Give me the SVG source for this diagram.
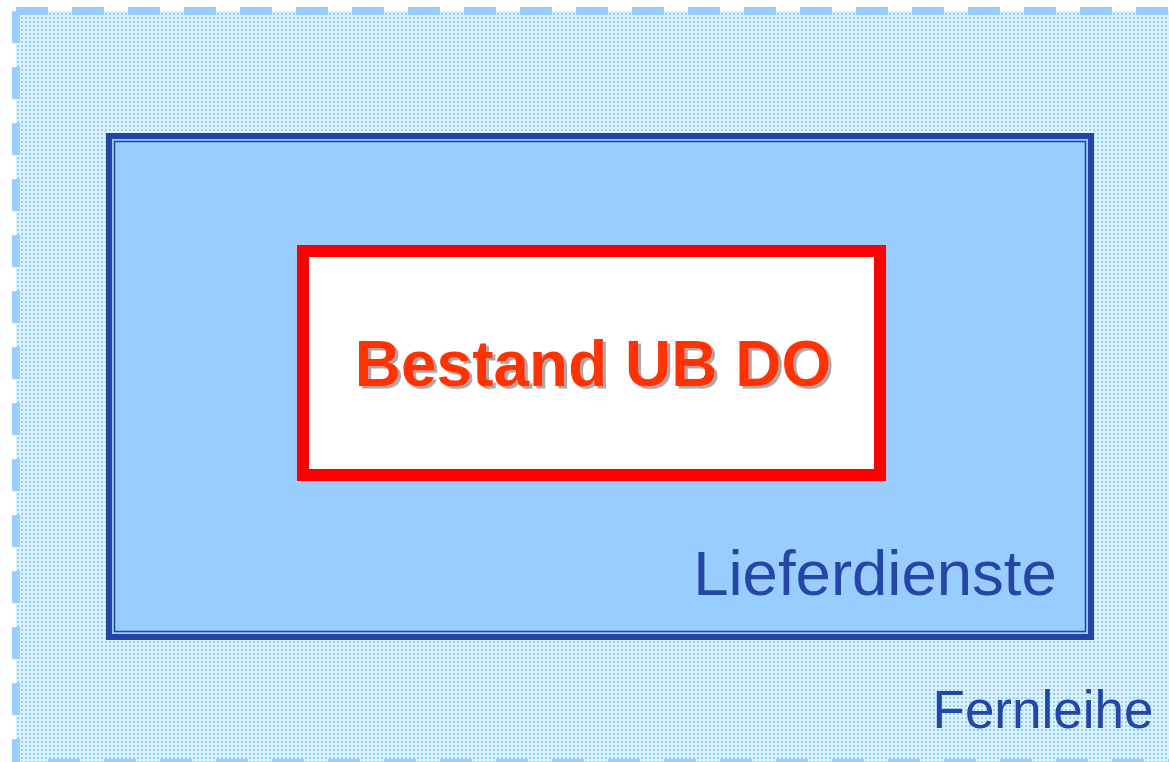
<svg xmlns="http://www.w3.org/2000/svg" width="1169" height="762" viewBox="0 0 1169 762">
<defs>
<pattern id="dots" x="0" y="0" width="4" height="4" patternUnits="userSpaceOnUse">
<rect width="4" height="4" fill="#dcf0fc"/>
<rect x="1" y="1" width="2" height="2" fill="#8ed2fb"/>
</pattern>
<filter id="shadow" x="-5%" y="-20%" width="110%" height="140%">
<feDropShadow dx="3" dy="2.5" stdDeviation="0.6" flood-color="#a8a8a8" flood-opacity="1"/>
</filter>
</defs>
<style>
.dash{stroke:#99ccff;stroke-width:8;stroke-dasharray:32 24;fill:none}
.lbl{font-family:"Liberation Sans",Arial,sans-serif;fill:#2446a6}
.title{font-family:"Liberation Sans",Arial,sans-serif;font-weight:bold;font-size:64px;text-anchor:middle;fill:#ff3300}
</style>
<rect width="1169" height="762" fill="#ffffff"/>
<g id="fernleihe">
<rect x="16" y="11" width="1160" height="760" fill="url(#dots)"/>
<line class="dash" x1="16" y1="11" x2="1175" y2="11"/>
<line class="dash" x1="16" y1="11" x2="16" y2="775"/>
<line class="dash" x1="48" y1="763" x2="1175" y2="763"/>
<text class="lbl" x="1043" y="728" font-size="53" text-anchor="middle">Fernleihe</text>
</g>
<g id="lieferdienste">
<rect x="109" y="136" width="982" height="501" fill="#99ccff" stroke="#2244a4" stroke-width="6"/>
<rect x="114.5" y="141.5" width="971" height="490" fill="none" stroke="#2244a4" stroke-width="1.5"/>
<text class="lbl" x="875" y="595" font-size="63.5" text-anchor="middle">Lieferdienste</text>
</g>
<g id="bestand">
<rect x="303" y="251" width="577" height="224" fill="#ffffff" stroke="#ff0000" stroke-width="12"/>
<text class="title" x="593" y="386" filter="url(#shadow)">Bestand UB DO</text>
</g>
<g id="connectors"/>
</svg>
